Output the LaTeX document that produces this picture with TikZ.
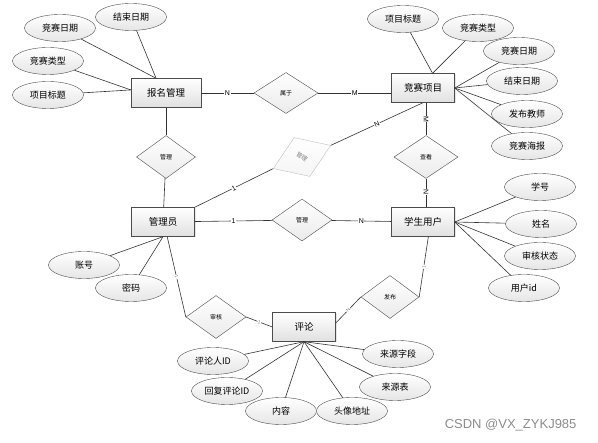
\documentclass[tikz,border=0pt]{standalone}
\usepackage{fontspec}
\usepackage{graphicx}
\newfontfamily\cjk{Noto Sans CJK SC}
\setsansfont{Liberation Sans}
\usetikzlibrary{shapes.geometric,shadows}

\tikzstyle{entS}=[rectangle,draw=black!70,top color=white,bottom color=black!12,minimum width=63pt,minimum height=29pt,inner sep=0pt,font=\cjk\fontsize{9.5}{10}\selectfont,drop shadow={opacity=0.2,shadow xshift=1pt,shadow yshift=-1pt}]
\tikzstyle{attS}=[ellipse,draw=black!70,top color=white,bottom color=black!10,minimum width=71pt,minimum height=27pt,inner sep=0pt,font=\cjk\fontsize{9}{10}\selectfont]
\tikzstyle{relS}=[diamond,draw=black!70,top color=white,bottom color=black!8,minimum width=60pt,minimum height=43pt,inner sep=0pt,font=\cjk\fontsize{6}{7}\selectfont]
\tikzstyle{eS}=[draw=black!80,line width=0.6pt]
\tikzstyle{eNS}=[fill=white,inner sep=0.5pt,font=\sffamily\fontsize{7}{8}\selectfont]
\tikzstyle{eNSs}=[eNS,text=black!45,font=\sffamily\fontsize{5}{6}\selectfont]

\begin{document}
\begin{tikzpicture}[x=1pt,y=-1pt]%[1 unit = 1 px of the sketch]
                \useasboundingbox (0,0) rectangle (598,443);
                % entities
                \draw (166,93) node[entS,minimum width=70pt] (bmgl) {报名管理};
                \draw (423,88) node[entS] (jsxm) {竞赛项目};
                \draw (163,222) node[entS] (gly) {管理员};
                \draw (423,222) node[entS] (xsyh) {学生用户};
                \draw (304,327) node[entS] (pl) {评论};
                % relations
                \draw (286,93) node[relS,minimum width=64pt,minimum height=41pt] (shuyu) {属于};
                \draw (166,157) node[relS,minimum width=59pt] (gl1) {管理};
                \draw (302,220) node[relS,minimum height=42pt] (gl2) {管理};
                \draw (426,157) node[relS,minimum width=64pt] (ck) {查看};
                \draw (216,317) node[relS] (sh) {审核};
                \draw (390,297) node[relS,minimum width=58pt] (fb) {发布};
                \draw (302,157) node[relS,draw=black!25,bottom color=black!4,text=black!50,rotate=22,minimum width=62pt,minimum height=42pt] (gd) {\rotatebox{-57}{管理}};
                % attributes
                \draw (131,17) node[attS] (bm_end) {结束日期};
                \draw (60,28) node[attS] (bm_date) {竞赛日期};
                \draw (48,61) node[attS] (bm_type) {竞赛类型};
                \draw (48,95) node[attS] (bm_title) {项目标题};
                \draw (403,19) node[attS] (jx_title) {项目标题};
                \draw (478,28) node[attS] (jx_type) {竞赛类型};
                \draw (519,51) node[attS] (jx_date) {竞赛日期};
                \draw (522,81) node[attS] (jx_end) {结束日期};
                \draw (527,114) node[attS] (jx_teacher) {发布教师};
                \draw (527,146) node[attS] (jx_poster) {竞赛海报};
                \draw (540,187) node[attS] (xs_no) {学号};
                \draw (541,224) node[attS] (xs_name) {姓名};
                \draw (540,256) node[attS] (xs_state) {审核状态};
                \draw (524,288) node[attS] (xs_id) {用户id};
                \draw (84,265) node[attS] (gl_acc) {账号};
                \draw (131,288) node[attS] (gl_pwd) {密码};
                \draw (213,361) node[attS] (pl_uid) {评论人ID};
                \draw (227,391) node[attS] (pl_rid) {回复评论ID};
                \draw (281,411) node[attS] (pl_text) {内容};
                \draw (352,411) node[attS] (pl_avatar) {头像地址};
                \draw (398,354) node[attS] (pl_field) {来源字段};
                \draw (395,387) node[attS] (pl_table) {来源表};
                \path
                    (bmgl) edge[eS] node[eNS]{N} (shuyu)
                    (shuyu) edge[eS] node[eNS]{M} (shuyu.east -| jsxm.west)
                    (bmgl) edge[eS] (gl1)
                    (gl1) edge[eS] (gly)
                    (gly) edge[eS] node[eNS]{1} (gl2)
                    (gl2) edge[eS] node[eNS]{N} (xsyh)
                    (gly.north east) edge[eS] node[eNS,sloped]{1} (gd.west)
                    (gd.east) edge[eS] node[eNS,sloped]{N} (jsxm.south)
                    (ck.north |- jsxm.south) edge[eS] node[eNS,sloped]{M} (ck.north)
                    (ck.south) edge[eS] node[eNS,sloped,pos=0.46]{N} (ck.south |- xsyh.north)
                    (gly.-74) edge[eS] node[eNSs,sloped]{1} (sh.west)
                    (sh.east) edge[eS] node[eNSs,sloped]{1} (pl.west)
                    (pl.7) edge[eS] node[eNSs,sloped]{N} (fb.west)
                    (fb.east) edge[eS] node[eNSs,sloped]{1} (xsyh.-70)
                ;
                \path
                    (bm_end) edge[eS] (bmgl.124)
                    (bm_date) edge[eS] (bmgl.124)
                    (bm_type) edge[eS] (bmgl.175)
                    (bm_title) edge[eS] (bmgl.175)
                    (jx_title) edge[eS] (jsxm.57)
                    (jx_type) edge[eS] (jsxm.57)
                    (jx_date) edge[eS] (jsxm.east)
                    (jx_end) edge[eS] (jsxm.east)
                    (jx_teacher) edge[eS] (jsxm.east)
                    (jx_poster) edge[eS] (jsxm.east)
                    (xs_no) edge[eS] (xsyh.east)
                    (xs_name) edge[eS] (xsyh.east)
                    (xs_state) edge[eS] (xsyh.east)
                    (xs_id) edge[eS] (xsyh.east)
                    (gl_acc) edge[eS] (gly.south)
                    (gl_pwd) edge[eS] (gly.south)
                    (pl_uid) edge[eS] (pl.south)
                    (pl_rid) edge[eS] (pl.south)
                    (pl_text) edge[eS] (pl.south)
                    (pl_avatar) edge[eS] (pl.south)
                    (pl_field) edge[eS] (pl.south)
                    (pl_table) edge[eS] (pl.south)
                ;
                \draw (580,425) node[anchor=east,text=black!45,font=\sffamily\fontsize{13}{14}\selectfont] (wm) {CSDN @VX\_ZYKJ985};
        \end{tikzpicture}
\end{document}
